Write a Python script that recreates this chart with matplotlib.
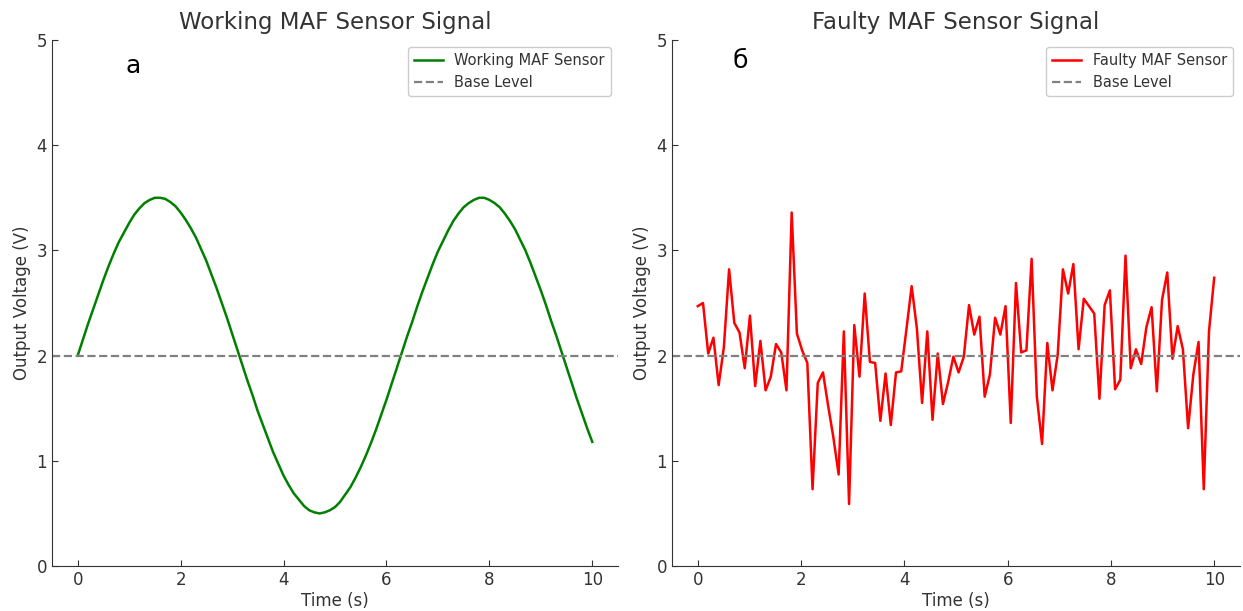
import numpy as np
import matplotlib
matplotlib.use("Agg")
import matplotlib.pyplot as plt

# time axis of the working sensor (0.1 s steps)
t_work = [i * 0.1 for i in range(101)]
v_work = [2.00, 2.15, 2.30, 2.44, 2.58, 2.72, 2.85, 2.97, 3.08, 3.17,
          3.26, 3.34, 3.40, 3.45, 3.48, 3.50, 3.50, 3.49, 3.46, 3.42,
          3.36, 3.29, 3.21, 3.12, 3.01, 2.90, 2.77, 2.64, 2.50, 2.36,
          2.21, 2.06, 1.91, 1.76, 1.62, 1.47, 1.34, 1.21, 1.08, 0.97,
          0.86, 0.77, 0.69, 0.63, 0.57, 0.53, 0.51, 0.50, 0.51, 0.53,
          0.56, 0.61, 0.68, 0.75, 0.84, 0.94, 1.05, 1.17, 1.30, 1.44,
          1.58, 1.73, 1.88, 2.03, 2.18, 2.32, 2.47, 2.61, 2.74, 2.87,
          2.99, 3.09, 3.19, 3.28, 3.35, 3.41, 3.45, 3.48, 3.50, 3.50,
          3.48, 3.45, 3.41, 3.35, 3.28, 3.20, 3.10, 3.00, 2.88, 2.75,
          2.62, 2.48, 2.33, 2.19, 2.04, 1.89, 1.74, 1.59, 1.45, 1.31,
          1.18]

# faulty sensor, 100 samples over 0..10 s
t_fault = list(np.linspace(0, 10, 100))
v_fault = [2.47, 2.50, 2.02, 2.17, 1.72, 2.08, 2.82, 2.31, 2.22, 1.88,
           2.38, 1.71, 2.14, 1.67, 1.80, 2.11, 2.03, 1.67, 3.36, 2.21,
           2.05, 1.93, 0.73, 1.74, 1.84, 1.52, 1.22, 0.87, 2.23, 0.59,
           2.29, 1.80, 2.59, 1.94, 1.93, 1.38, 1.83, 1.34, 1.84, 1.85,
           2.25, 2.66, 2.26, 1.55, 2.23, 1.39, 2.02, 1.54, 1.75, 1.99,
           1.84, 1.99, 2.48, 2.20, 2.37, 1.61, 1.82, 2.36, 2.20, 2.47,
           1.36, 2.69, 2.03, 2.05, 2.92, 1.61, 1.16, 2.12, 1.67, 2.01,
           2.82, 2.59, 2.87, 2.06, 2.54, 2.47, 2.40, 1.59, 2.48, 2.62,
           1.68, 1.77, 2.95, 1.88, 2.06, 1.92, 2.27, 2.46, 1.66, 2.53,
           2.79, 1.97, 2.28, 2.06, 1.31, 1.82, 2.13, 0.73, 2.23, 2.74]

base_level = 2.0

txt = "#333333"
plt.rcParams["font.family"] = ["DejaVu Sans"]

fig = plt.figure(figsize=(12.43, 6.11), dpi=100)
ax1 = fig.add_axes([0.0418, 0.0736, 0.4554, 0.861])
ax2 = fig.add_axes([0.5406, 0.0736, 0.457, 0.861])

panels = [
    (ax1, t_work, v_work, "green", "Working MAF Sensor", "Working MAF Sensor Signal", "а", (0.143, 0.95)),
    (ax2, t_fault, v_fault, "red", "Faulty MAF Sensor", "Faulty MAF Sensor Signal", "б", (0.12, 0.96)),
]

for ax, t, v, col, lab, title, letter, pos in panels:
    ax.plot(t, v, color=col, lw=1.8, label=lab)
    ax.axhline(base_level, color="gray", ls="--", lw=1.6, label="Base Level")
    ax.set_xlim(-0.5, 10.5)
    ax.set_ylim(0, 5)
    ax.set_title(title, fontsize=16.5, color=txt, pad=8)
    ax.set_xlabel("Time (s)", fontsize=12, color=txt, labelpad=2)
    ax.set_ylabel("Output Voltage (V)", fontsize=12, color=txt, labelpad=4)
    ax.spines["top"].set_visible(False)
    ax.spines["right"].set_visible(False)
    for s in ("left", "bottom"):
        ax.spines[s].set_color(txt)
    ax.tick_params(direction="in", labelsize=12, colors=txt, length=4)
    ax.set_xticks([0, 2, 4, 6, 8, 10])
    ax.set_yticks([0, 1, 2, 3, 4, 5])
    ax.legend(loc="upper right", fontsize=10.5, labelcolor=txt, framealpha=1,
              edgecolor="#cccccc", fancybox=True)
    ax.text(pos[0], pos[1], letter, transform=ax.transAxes, fontsize=18,
            color="black", ha="center", va="center")

fig.savefig("out.png", dpi=100)
